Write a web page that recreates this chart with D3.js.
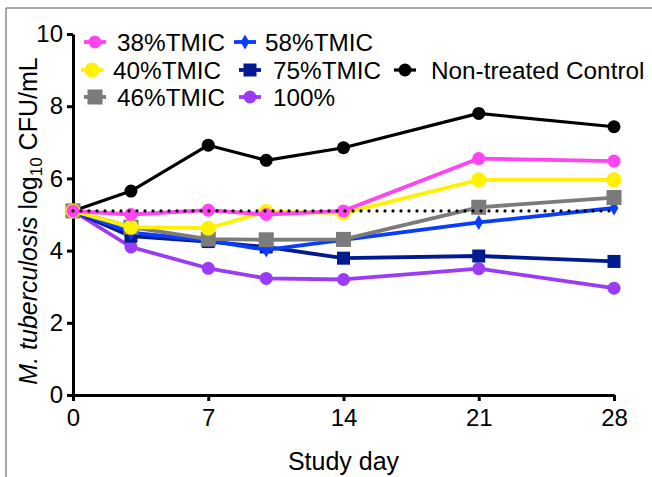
<!DOCTYPE html>
<html>
<head>
<meta charset="utf-8">
<script src="https://cdn.jsdelivr.net/npm/d3@7"></script>
<style>
  body { margin: 0; background: #fff; }
  text { font-family: Arial, "Liberation Sans", sans-serif; fill: #000; }
</style>
</head>
<body>
<svg id="chart" width="652" height="477"></svg>
<script>
// study days and log10 CFU/mL values
var days = [0, 3, 7, 10, 14, 21, 28];
var control = [5.1, 5.65, 6.92, 6.5, 6.85, 7.8, 7.43];
var tmic38 = [5.1, 5.0, 5.12, 5.0, 5.1, 6.55, 6.48];
var tmic40 = [5.1, 4.65, 4.62, 5.08, 5.04, 5.96, 5.96];
var tmic46 = [5.1, 4.65, 4.32, 4.3, 4.31, 5.2, 5.47];
var tmic58 = [5.1, 4.5, 4.28, 4.02, 4.3, 4.78, 5.18];
var tmic75 = [5.1, 4.4, 4.25, 4.1, 3.79, 3.85, 3.7];
var tmic100 = [5.1, 4.1, 3.51, 3.23, 3.2, 3.5, 2.96];
var baseline = 5.1;
var xTicks = [0, 7, 14, 21, 28];
var yTicks = [0, 2, 4, 6, 8, 10];

var svg = d3.select("#chart");

// thin gray frame (top & left edges of the cropped figure)
svg.append("line").attr("x1", 6).attr("x2", 652).attr("y1", 8).attr("y2", 8)
    .attr("stroke", "#8a8a8a").attr("stroke-width", 1.5);
svg.append("line").attr("x1", 6).attr("x2", 6).attr("y1", 8).attr("y2", 477)
    .attr("stroke", "#8a8a8a").attr("stroke-width", 1.5);

var x = d3.scaleLinear().domain([0, 28]).range([73, 614]);
var y = d3.scaleLinear().domain([0, 10]).range([395, 34]);

var series = [
  {name: "Non-treated Control", values: control, color: "#000", shape: "circle", r: 6.5, width: 3.2},
  {name: "100%", values: tmic100, color: "#9a3cf5", shape: "circle", r: 6.5, width: 3.8},
  {name: "75%TMIC", values: tmic75, color: "#001a8f", shape: "square", r: 6.5, width: 3.8},
  {name: "58%TMIC", values: tmic58, color: "#0a3cff", shape: "diamond", r: 5.5, width: 3.8},
  {name: "46%TMIC", values: tmic46, color: "#7b7b7b", shape: "square", r: 7.5, width: 3.8},
  {name: "40%TMIC", values: tmic40, color: "#fff200", shape: "circle", r: 7.5, width: 3.8},
  {name: "38%TMIC", values: tmic38, color: "#ff44f0", shape: "circle", r: 6.5, width: 3.8}
];

function drawMarker(g, s, cx, cy) {
  if (s.shape === "circle") {
    g.append("circle").attr("cx", cx).attr("cy", cy).attr("r", s.r).attr("fill", s.color);
  } else if (s.shape === "square") {
    g.append("rect").attr("x", cx - s.r).attr("y", cy - s.r)
      .attr("width", 2 * s.r).attr("height", 2 * s.r).attr("fill", s.color);
  } else {
    g.append("path").attr("d", d3.symbol(d3.symbolDiamond, s.r * s.r * 2.2)())
      .attr("transform", "translate(" + cx + "," + cy + ")").attr("fill", s.color);
  }
}

// axes
var yAxis = svg.append("g")
    .attr("transform", "translate(73,0)")
    .call(d3.axisLeft(y).tickValues(yTicks).tickSize(6).tickSizeOuter(0).tickPadding(4));
var xAxis = svg.append("g")
    .attr("transform", "translate(0,395)")
    .call(d3.axisBottom(x).tickValues(xTicks).tickSize(6).tickSizeOuter(0).tickPadding(8));
[xAxis, yAxis].forEach(function(a) {
  a.select(".domain").attr("stroke", "#000").attr("stroke-width", 3);
  a.selectAll(".tick line").attr("stroke", "#000").attr("stroke-width", 3);
  a.selectAll(".tick text").attr("font-size", 24).attr("font-family", "Arial, 'Liberation Sans', sans-serif");
});

var line = d3.line()
    .x(function(d) { return x(d[0]); })
    .y(function(d) { return y(d[1]); });

series.forEach(function(s) {
  var pts = days.map(function(d, i) { return [d, s.values[i]]; });
  var g = svg.append("g");
  g.append("path").datum(pts)
    .attr("fill", "none").attr("stroke", s.color)
    .attr("stroke-width", s.width).attr("stroke-linejoin", "round")
    .attr("d", line);
  pts.forEach(function(p) { drawMarker(g, s, x(p[0]), y(p[1])); });
});

// dotted reference line at starting inoculum
svg.append("line")
    .attr("x1", x(0)).attr("x2", x(28))
    .attr("y1", y(baseline)).attr("y2", y(baseline))
    .attr("stroke", "#000").attr("stroke-width", 3.2)
    .attr("stroke-linecap", "round").attr("stroke-dasharray", "0 8");

// legend
var legendPos = {
  "38%TMIC": [95, 42, 117],
  "40%TMIC": [92, 70, 113],
  "46%TMIC": [95, 97, 117],
  "58%TMIC": [245, 42, 265],
  "75%TMIC": [250, 70, 273],
  "100%": [250, 97, 273],
  "Non-treated Control": [405, 70, 431]
};
series.forEach(function(s) {
  var p = legendPos[s.name];
  var g = svg.append("g");
  g.append("line").attr("x1", p[0] - 11).attr("x2", p[0] + 11)
    .attr("y1", p[1]).attr("y2", p[1])
    .attr("stroke", s.color).attr("stroke-width", s.width);
  drawMarker(g, s, p[0], p[1]);
  g.append("text").attr("x", p[2]).attr("y", p[1] + 8.5)
    .attr("font-size", 24.3).text(s.name);
});

// axis titles
svg.append("text")
    .attr("x", x(14)).attr("y", 470)
    .attr("text-anchor", "middle").attr("font-size", 25)
    .text("Study day");

var yl = svg.append("text")
    .attr("transform", "translate(37,221) rotate(-90)")
    .attr("text-anchor", "middle").attr("font-size", 25);
yl.append("tspan").attr("font-style", "italic").text("M. tuberculosis");
yl.append("tspan").text(" log");
yl.append("tspan").attr("font-size", 17).attr("dy", 5).text("10");
yl.append("tspan").attr("dy", -5).text(" CFU/mL");
</script>
</body>
</html>
